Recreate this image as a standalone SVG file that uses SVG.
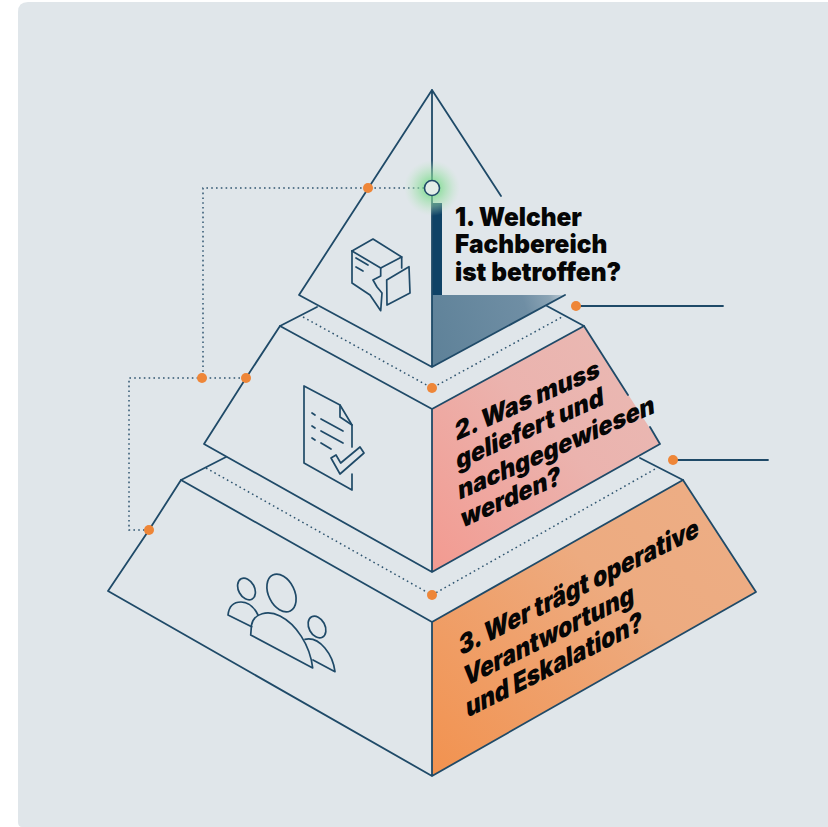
<svg xmlns="http://www.w3.org/2000/svg" width="828" height="827" viewBox="0 0 828 827">
<style>
.l{fill:none;stroke:#1f4a68;stroke-width:1.8;stroke-linejoin:round;stroke-linecap:round}
.i{fill:none;stroke:#1f4a68;stroke-width:1.7;stroke-linejoin:round;stroke-linecap:round}
.d{fill:none;stroke:#2f5570;stroke-width:1.5;stroke-dasharray:1.6 3.2}
.o{fill:#ee8638}
text{font-family:"Inter","Roboto","Liberation Sans",sans-serif;font-weight:900;fill:#060606}
.t{font-size:26px}
.a{font-size:27.500px}
.b{font-size:26px}
</style>
<defs>
<linearGradient id="g2" x1="0" y1="1" x2="1" y2="0"><stop offset="0" stop-color="#f39a90"/><stop offset=".55" stop-color="#ebb3ae"/><stop offset="1" stop-color="#e9bab4"/></linearGradient>
<linearGradient id="g3" x1="0" y1="1" x2="1" y2="0"><stop offset="0" stop-color="#f2924f"/><stop offset=".6" stop-color="#edab80"/><stop offset="1" stop-color="#edae86"/></linearGradient>
<linearGradient id="g1" gradientUnits="userSpaceOnUse" x1="432" y1="340" x2="566" y2="295"><stop offset="0" stop-color="#5f8299"/><stop offset=".7" stop-color="#6f8ea4"/><stop offset=".88" stop-color="#8ba4b5"/><stop offset="1" stop-color="#c5d2da"/></linearGradient>
<radialGradient id="glow"><stop offset=".3" stop-color="#7bdc8c" stop-opacity=".7"/><stop offset=".65" stop-color="#a5e2b0" stop-opacity=".45"/><stop offset="1" stop-color="#c0e6c8" stop-opacity="0"/></radialGradient>
</defs>
<rect width="828" height="827" fill="#fff"/>
<path d="M28 2H828V827H22Q18 827 18 822V12Q18 2 28 2Z" fill="#e0e6ea"/>

<g id="connectors">
<path class="d" d="M424 188H203V378H246M203 378H129V530H149"/>
<path class="d" d="M303 317L432 388L562 317"/>
<path class="d" d="M206 468L432 595L657 468"/>
<path class="l" d="M576 306H723M673 460H768"/>
</g>

<g id="tier3">
<path d="M432 622L683 480L756 592L432 776Z" fill="url(#g3)"/>
<path class="l" d="M181 480L432 622L683 480L756 592L432 776L108 591L149 530L181 480ZM432 622V776"/>
<path class="l" d="M181 480L226 457M683 480L640 458"/>
<circle class="o" cx="149" cy="530" r="5"/>
<circle class="o" cx="432" cy="595" r="5"/>
<circle class="o" cx="673" cy="460" r="5"/>
<g class="i">
<ellipse cx="246.500" cy="589" rx="8" ry="11.500" transform="rotate(-28 246.500 589)"/>
<ellipse cx="281.500" cy="593" rx="13" ry="20" transform="rotate(-26 281.500 593)"/>
<ellipse cx="317" cy="627" rx="8" ry="11.500" transform="rotate(-28 317 627)"/>
<path d="M250.700 635L251.500 625C254 613 268 610 280 616C296 624 310 645 312.700 668Z"/>
<path d="M251.700 626.700L228 615C229 606 234 602 241 602C248 602 254 607 258 615"/>
<path d="M305 639.300C320 636 333 655 335 671.700L313 660"/>
</g>
<text class="a" transform="matrix(.8 -.4 .08 1 460 656)">3. Wer trägt operative</text>
<text class="a" transform="matrix(.8 -.4 .08 1 465 687)">Verantwortung</text>
<text class="a" transform="matrix(.8 -.4 .08 1 467 718)">und Eskalation?</text>
</g>

<g id="tier2">
<path d="M432 409L584 326L660 444L432 572Z" fill="url(#g2)"/>
<path class="l" d="M628 395L584 326L432 409L280 326L246 378L204 444L432 572L660 444L650 427M432 409V572"/>
<path class="l" d="M280 326L317 307M584 326L547 306"/>
<circle class="o" cx="246" cy="378" r="5"/>
<circle class="o" cx="202" cy="378" r="5"/>
<circle class="o" cx="432" cy="388" r="5"/>
<circle class="o" cx="576" cy="306" r="5"/>
<g class="i">
<path d="M352 447V425L340 405L304 386V463L352 490V474"/>
<path d="M340 405V417L352 425"/>
<path d="M321 419L343 431M321 431L343 443M321 443L331 449"/>
<path d="M312 413l3 2M312 426l3 2M312 438l3 2"/>
<path d="M331 458L340 474L364 453L360 447L340.700 463L336 455Z"/>
</g>
<text class="b" transform="matrix(.875 -.39 .08 1 456 441)">2. Was muss</text>
<text class="b" transform="matrix(.875 -.39 .08 1 457 470)">geliefert und</text>
<text class="b" transform="matrix(.875 -.39 .08 1 459 500)">nachgegewiesen</text>
<text class="b" transform="matrix(.875 -.39 .08 1 462 528)">werden?</text>
</g>

<g id="tier1">
<path d="M432 295H565L432 367Z" fill="url(#g1)"/>
<rect x="432" y="203" width="10" height="92" fill="#0f4266"/>
<path class="l" d="M432 90L299 295L432 367L565 295M432 90L501 196M432 90V367"/>
<circle cx="432" cy="188" r="28" fill="url(#glow)"/>
<circle cx="432" cy="188" r="7.500" fill="#e3eee8" stroke="#1f4a68" stroke-width="1.600"/>
<circle class="o" cx="368" cy="188" r="5"/>
<g class="i">
<path d="M352 251L373 239L401.700 257V268"/>
<path d="M352 251L380.700 268L401.700 257"/>
<path d="M352 251V283L370 295L380.700 310.700L382 293L377 287L373 280L380.700 276V268"/>
<path d="M386.700 280L409 266.700L410 293L387 305Z"/>
<path d="M356 258L368 265M356 267L363 271"/>
</g>
<text class="t" transform="matrix(.94 0 0 1 455 226)">1. Welcher</text>
<text class="t" transform="matrix(.94 0 0 1 455 253)">Fachbereich</text>
<text class="t" transform="matrix(.94 0 0 1 455 281)">ist betroffen?</text>
</g>
</svg>
